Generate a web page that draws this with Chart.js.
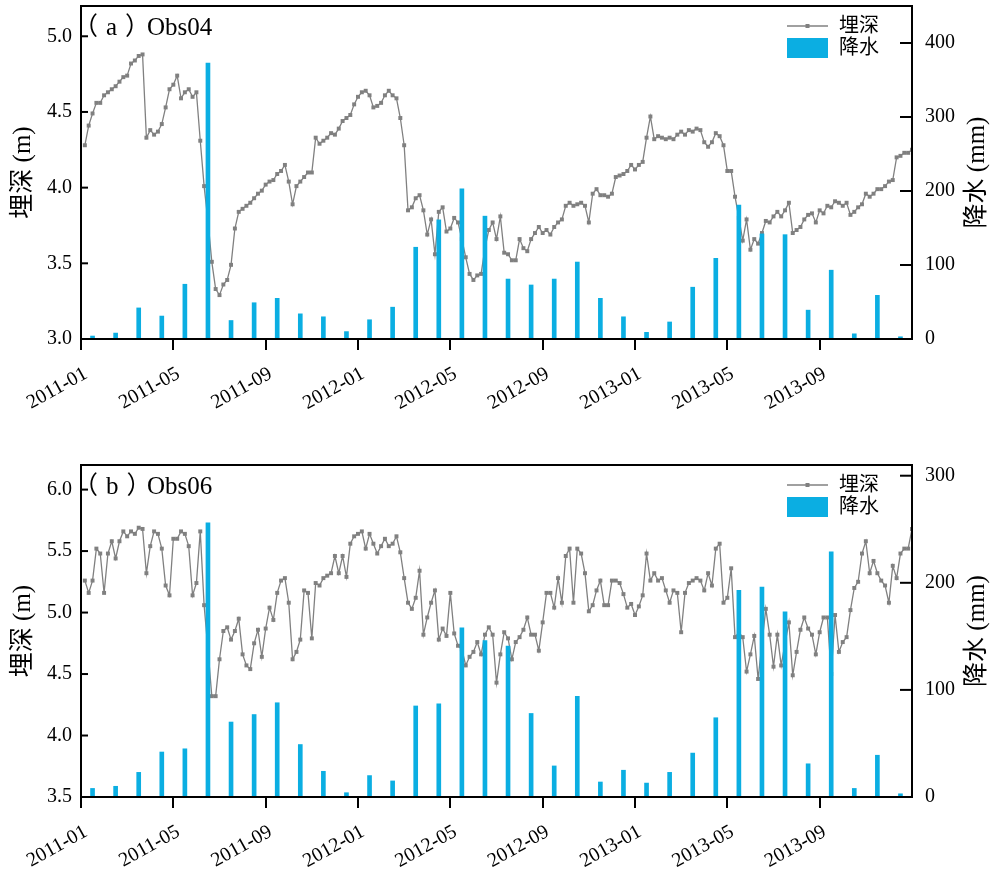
<!DOCTYPE html>
<html>
<head>
<meta charset="utf-8">
<script src="https://cdn.jsdelivr.net/npm/chart.js@4.4.1/dist/chart.umd.min.js"></script>
<style>
html,body{margin:0;padding:0;background:#fff;}
#wrap{position:relative;width:992px;height:874px;overflow:hidden;}
canvas{position:absolute;left:0;}
</style>
</head>
<body>
<div id="wrap">
<canvas id="cA" width="992" height="437" style="top:0px"></canvas>
<canvas id="cB" width="992" height="437" style="top:437px"></canvas>
</div>
<script>
// ---------------- data ----------------
// x axis: months since 2011-01 ; tick labels
const xTickMonths = [0, 4, 8, 12, 16, 20, 24, 28, 32];
const xTickLabels = ['2011-01','2011-05','2011-09','2012-01','2012-05','2012-09','2013-01','2013-05','2013-09'];
const READINGS_PER_MONTH = 6;   // groundwater depth read every 5 days

// monthly precipitation (mm), 2011-01 .. 2013-12
const rainObs04 = [4,8,42,31,74,373,25,49,55,34,30,10,
                   26,43,124,161,203,166,81,73,81,104,55,30,
                   9,23,70,109,181,142,141,39,93,7,59,3];
const rainObs06 = [8,10,23,42,45,256,70,77,88,49,24,4,
                   20,15,85,87,158,146,141,78,29,94,14,25,
                   13,23,41,74,193,196,173,31,229,8,39,3];

// 5-day groundwater depth (m)
const depthObs04 = [
4.28,4.41,4.49,4.56,4.56,4.61,4.63,4.65,4.67,4.70,4.73,4.74,4.82,4.84,4.87,4.88,
4.33,4.38,4.35,4.37,4.42,4.53,4.65,4.68,4.74,4.59,4.63,4.65,4.60,4.63,4.31,4.01,
3.78,3.51,3.33,3.29,3.36,3.39,3.49,3.73,3.84,3.86,3.88,3.90,3.93,3.96,3.98,4.02,
4.04,4.05,4.09,4.11,4.15,4.04,3.89,4.01,4.04,4.07,4.10,4.10,4.33,4.29,4.31,4.33,
4.36,4.35,4.39,4.44,4.46,4.48,4.55,4.60,4.63,4.64,4.61,4.53,4.54,4.56,4.61,4.64,
4.61,4.59,4.46,4.28,3.85,3.87,3.93,3.95,3.85,3.69,3.79,3.56,3.84,3.87,3.71,3.73,
3.80,3.77,3.66,3.54,3.43,3.39,3.42,3.43,3.60,3.72,3.77,3.66,3.81,3.57,3.56,3.52,
3.52,3.66,3.60,3.58,3.66,3.70,3.74,3.70,3.72,3.69,3.74,3.77,3.79,3.88,3.90,3.88,
3.89,3.90,3.88,3.77,3.96,3.99,3.95,3.95,3.94,3.96,4.07,4.08,4.09,4.11,4.15,4.12,
4.15,4.17,4.33,4.47,4.32,4.34,4.33,4.32,4.33,4.32,4.35,4.37,4.35,4.38,4.37,4.39,
4.38,4.30,4.27,4.30,4.36,4.34,4.28,4.11,4.11,3.94,3.80,3.65,3.79,3.59,3.66,3.63,
3.70,3.78,3.77,3.81,3.84,3.81,3.85,3.90,3.70,3.72,3.74,3.79,3.82,3.83,3.77,3.85,
3.83,3.88,3.87,3.91,3.90,3.88,3.90,3.82,3.84,3.87,3.89,3.96,3.94,3.96,3.99,3.99,
4.01,4.04,4.05,4.20,4.21,4.23,4.23,4.25];

const depthObs06 = [
5.26,5.16,5.26,5.52,5.48,5.16,5.48,5.58,5.44,5.58,5.66,5.62,5.66,5.64,5.69,5.68,
5.32,5.54,5.66,5.64,5.52,5.22,5.14,5.60,5.60,5.66,5.64,5.54,5.14,5.24,5.66,5.06,
4.70,4.32,4.32,4.62,4.85,4.88,4.78,4.85,4.95,4.66,4.57,4.54,4.75,4.86,4.64,4.87,
5.04,4.94,5.16,5.26,5.28,5.08,4.62,4.68,4.78,5.18,5.16,4.79,5.24,5.22,5.28,5.30,
5.32,5.46,5.32,5.46,5.29,5.56,5.62,5.64,5.66,5.52,5.64,5.56,5.48,5.54,5.60,5.54,
5.56,5.62,5.49,5.28,5.08,5.03,5.12,5.34,4.82,4.96,5.08,5.18,4.78,4.87,4.81,5.16,
4.83,4.73,4.70,4.57,4.64,4.68,4.76,4.66,4.82,4.88,4.82,4.43,4.66,4.84,4.79,4.62,
4.76,4.80,4.86,4.96,4.82,4.82,4.69,4.92,5.16,5.16,5.04,5.28,5.08,5.46,5.52,5.08,
5.52,5.48,5.32,5.01,5.06,5.18,5.26,5.06,5.06,5.26,5.26,5.24,5.15,5.04,5.07,4.98,
5.05,5.14,5.48,5.26,5.32,5.26,5.28,5.18,5.08,5.18,5.16,4.84,5.16,5.24,5.26,5.28,
5.26,5.18,5.32,5.22,5.52,5.56,5.08,5.12,5.36,4.80,4.84,4.80,4.52,4.66,4.81,4.46,
4.75,5.03,4.82,4.56,4.82,4.57,4.75,4.92,4.49,4.68,4.86,4.96,4.87,4.82,4.66,4.84,
4.96,4.96,4.50,4.98,4.68,4.76,4.80,5.02,5.20,5.25,5.48,5.58,5.32,5.42,5.32,5.26,
5.22,5.08,5.38,5.28,5.48,5.52,5.52,5.68];

// axis ticks
const depthTicksA = [3.0, 3.5, 4.0, 4.5, 5.0];
const rainTicksA  = [0, 100, 200, 300, 400];
const depthTicksB = [3.5, 4.0, 4.5, 5.0, 5.5, 6.0];
const rainTicksB  = [0, 100, 200, 300];

// ---------------- styling ----------------
const SERIF = '"Liberation Serif", "Noto Sans CJK SC", serif';
const LINE_COLOR = '#808080';
const BAR_COLOR = '#0BAEE2';

function noPad(s) { s.paddingTop = 0; s.paddingBottom = 0; }

function buildChart(canvasId, c) {
  const depthPts = c.depth.map((v, j) => ({x: (j + 1) / READINGS_PER_MONTH, y: v}));
  const rainPts = c.rain.map((v, i) => ({x: i + 0.5, y: v}));

  const deco = {
    id: 'deco' + canvasId,
    afterDraw(chart) {
      const ctx = chart.ctx, ca = chart.chartArea, sy = chart.scales.y, sy1 = chart.scales.y1;
      ctx.save();
      ctx.strokeStyle = '#000';
      ctx.lineWidth = 2;
      // inward ticks on left and right axes
      sy.ticks.forEach(t => {
        const p = sy.getPixelForValue(t.value);
        ctx.beginPath(); ctx.moveTo(ca.left, p); ctx.lineTo(ca.left + 7, p); ctx.stroke();
      });
      sy1.ticks.forEach(t => {
        const p = sy1.getPixelForValue(t.value);
        ctx.beginPath(); ctx.moveTo(ca.right, p); ctx.lineTo(ca.right - 12, p); ctx.stroke();
      });
      // frame
      ctx.strokeRect(ca.left, ca.top, ca.right - ca.left, ca.bottom - ca.top);

      // axis titles (both read bottom-to-top)
      ctx.fillStyle = '#000';
      ctx.font = '25px ' + SERIF;
      ctx.textAlign = 'center';
      ctx.textBaseline = 'middle';
      const cy = (ca.top + ca.bottom) / 2;
      ctx.save(); ctx.translate(23, cy); ctx.rotate(-Math.PI / 2); ctx.fillText('埋深 (m)', 0, 0); ctx.restore();
      ctx.save(); ctx.translate(977, cy); ctx.rotate(-Math.PI / 2); ctx.fillText('降水 (mm)', 0, 0); ctx.restore();

      // panel title
      ctx.textAlign = 'left';
      ctx.font = '25px ' + SERIF;
      ctx.save();
      if ('letterSpacing' in ctx) ctx.letterSpacing = '8px';
      ctx.fillText(c.tag, ca.left - 8, ca.top + 22);
      ctx.restore();
      ctx.fillText(c.title, ca.left + 66, ca.top + 22);

      // legend
      const lx0 = ca.right - 125, lx1 = ca.right - 84;
      const ly = ca.top + 20;
      ctx.strokeStyle = LINE_COLOR; ctx.lineWidth = 1.3;
      ctx.beginPath(); ctx.moveTo(lx0, ly); ctx.lineTo(lx1, ly); ctx.stroke();
      ctx.fillStyle = LINE_COLOR;
      ctx.fillRect((lx0 + lx1) / 2 - 2, ly - 2, 4, 4);
      ctx.fillStyle = BAR_COLOR;
      ctx.fillRect(lx0, ca.top + 32, lx1 - lx0, 20);
      ctx.fillStyle = '#000';
      ctx.font = '20px ' + SERIF;
      ctx.textBaseline = 'middle';
      ctx.fillText('埋深', ca.right - 73, ly + 1);
      ctx.fillText('降水', ca.right - 73, ca.top + 43);
      ctx.restore();
    }
  };

  return new Chart(document.getElementById(canvasId), {
    type: 'line',
    data: {
      datasets: [
        {
          type: 'bar', label: '降水', data: rainPts, yAxisID: 'y1', xAxisID: 'x',
          backgroundColor: BAR_COLOR, borderWidth: 0, barThickness: 4, order: 0
        },
        {
          type: 'line', label: '埋深', data: depthPts, yAxisID: 'y', xAxisID: 'x',
          borderColor: LINE_COLOR, borderWidth: 1.3, backgroundColor: LINE_COLOR,
          pointStyle: 'rect', pointRadius: 2.8, pointBorderWidth: 0,
          pointBackgroundColor: LINE_COLOR, tension: 0, fill: false, order: 1
        }
      ]
    },
    options: {
      responsive: false,
      animation: false,
      events: [],
      layout: {padding: {top: c.topPad, left: 0, right: 0, bottom: 0}},
      plugins: {legend: {display: false}, tooltip: {enabled: false}},
      scales: {
        x: {
          type: 'linear', min: 0, max: 36, offset: false,
          afterBuildTicks: s => { s.ticks = xTickMonths.map(v => ({value: v})); },
          afterFit: s => { s.height = c.xHeight; s.paddingLeft = 0; s.paddingRight = 0; },
          ticks: {
            autoSkip: false, minRotation: 29, maxRotation: 29, padding: 12, labelOffset: 5,
            color: '#000', font: {family: SERIF, size: 20},
            callback: v => xTickLabels[xTickMonths.indexOf(v)]
          },
          grid: {display: true, drawOnChartArea: false, drawTicks: true, tickLength: 11, lineWidth: 2, color: '#000', offset: false},
          border: {display: false}
        },
        y: {
          position: 'left', min: c.yMin, max: c.yMax,
          afterBuildTicks: s => { s.ticks = c.yTicks.map(v => ({value: v})); },
          afterFit: s => { s.width = 81; noPad(s); },
          ticks: {padding: 9, color: '#000', font: {family: SERIF, size: 20}, callback: v => v.toFixed(1)},
          grid: {display: false, drawTicks: false},
          border: {display: false}
        },
        y1: {
          position: 'right', min: 0, max: c.y1Max,
          afterBuildTicks: s => { s.ticks = c.y1Ticks.map(v => ({value: v})); },
          afterFit: s => { s.width = 80; noPad(s); },
          ticks: {padding: 13, color: '#000', font: {family: SERIF, size: 20}, callback: v => String(v)},
          grid: {display: false, drawTicks: false},
          border: {display: false}
        }
      }
    },
    plugins: [deco]
  });
}

buildChart('cA', {
  depth: depthObs04, rain: rainObs04, yMin: 3.0, yMax: 5.2, yTicks: depthTicksA,
  y1Max: 450, y1Ticks: rainTicksA, tag: '（a）', title: 'Obs04', topPad: 6, xHeight: 98
});
buildChart('cB', {
  depth: depthObs06, rain: rainObs06, yMin: 3.5, yMax: 6.2, yTicks: depthTicksB,
  y1Max: 310, y1Ticks: rainTicksB, tag: '（b）', title: 'Obs06', topPad: 28, xHeight: 77
});
</script>
</body>
</html>
